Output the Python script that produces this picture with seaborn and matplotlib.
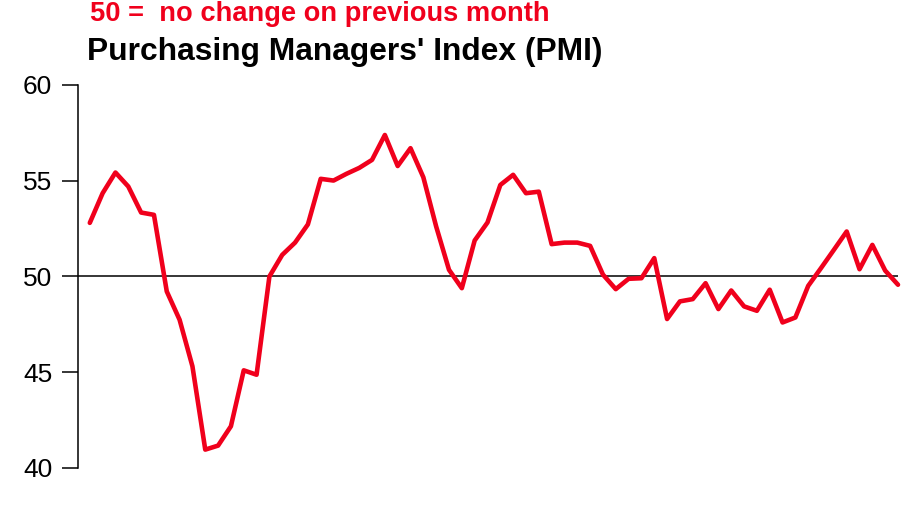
import matplotlib
matplotlib.use("Agg")
import matplotlib.pyplot as plt
import seaborn as sns
import pandas as pd
import numpy as np

# Monthly PMI readings
pmi = [52.80, 54.35, 55.43, 54.70, 53.34, 53.22, 49.22, 47.74, 45.31, 40.96,
       41.17, 42.18, 45.10, 44.87, 50.00, 51.13, 51.77, 52.72, 55.10, 55.01,
       55.36, 55.67, 56.09, 57.39, 55.77, 56.70, 55.18, 52.61, 50.35, 49.39,
       51.88, 52.82, 54.78, 55.31, 54.35, 54.43, 51.69, 51.77, 51.77, 51.60,
       50.10, 49.34, 49.88, 49.91, 50.96, 47.78, 48.70, 48.82, 49.65, 48.30,
       49.27, 48.44, 48.21, 49.31, 47.60, 47.86, 49.51, 50.44, 51.39, 52.35,
       50.38, 51.65, 50.31, 49.57]
months = list(range(len(pmi)))
y_ticks = [40, 45, 50, 55, 60]
title = "Purchasing Managers' Index (PMI)"
subtitle = "50 =  no change on previous month"
RED = "#F0001C"

df = pd.DataFrame({"month": months, "pmi": pmi})

sns.set_theme(style="white")
plt.rcParams["font.family"] = ["Liberation Sans", "DejaVu Sans"]

fig = plt.figure(figsize=(9.12, 5.07), dpi=100)
ax = fig.add_axes([78/912, 1-468/507, (898-78)/912, (468-85)/507])

ax.axhline(50, color="black", lw=1.1, zorder=1)
sns.lineplot(data=df, x="month", y="pmi", ax=ax, color=RED, lw=3.3,
             zorder=3, clip_on=False)

ax.set_xlim(-0.92, len(pmi) - 1)
ax.set_ylim(40, 60)
ax.set_yticks(y_ticks)
ax.set_yticklabels([str(t) for t in y_ticks], fontsize=19, color="black")
ax.set_xticks([])
ax.set_xlabel("")
ax.set_ylabel("")
for s in ["top", "right", "bottom"]:
    ax.spines[s].set_visible(False)
ax.spines["left"].set_color("black")
ax.spines["left"].set_linewidth(1.1)
ax.tick_params(axis="y", left=True, direction="out", length=11.5, width=1.1,
               color="black", pad=7)

fig.text(87/912, 1-60/507, title, fontsize=22.9, fontweight="bold",
         color="black", ha="left", va="baseline")
fig.text(90/912, 1-21/507, subtitle, fontsize=19.6, fontweight="bold",
         color=RED, ha="left", va="baseline")

fig.savefig("out.png", dpi=100, facecolor="white")
